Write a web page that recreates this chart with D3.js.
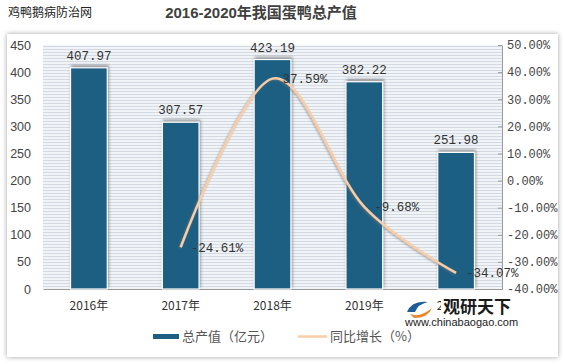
<!DOCTYPE html>
<html><head><meta charset="utf-8">
<script src="https://cdn.jsdelivr.net/npm/d3@7"></script>
<style>body{margin:0;background:#fff}svg{display:block}</style>
</head><body><svg id="c" width="565" height="364"></svg>
<script>
const years = ["2016年","2017年","2018年","2019年","2020年"];
const output = [407.97, 307.57, 423.19, 382.22, 251.98];
const growthYears = ["2017年","2018年","2019年","2020年"];
const growth = [-24.61, 37.59, -9.68, -34.07];
const leftTicks = [0,50,100,150,200,250,300,350,400,450];
const rightTicks = [-40,-30,-20,-10,0,10,20,30,40,50];

const svg = d3.select("#c");
const defs = svg.append("defs");
const pat = defs.append("pattern").attr("id","stripes").attr("patternUnits","userSpaceOnUse").attr("width",6).attr("height",3);
pat.append("rect").attr("width",6).attr("height",3).attr("fill","#f1f4f7");
pat.append("rect").attr("y",1).attr("width",6).attr("height",1).attr("fill","#d3dae3");
const sh = defs.append("filter").attr("id","bshadow").attr("x","-30%").attr("y","-30%").attr("width","160%").attr("height","160%");
sh.append("feDropShadow").attr("dx",1).attr("dy",-2).attr("stdDeviation",1.5).attr("flood-color","#555").attr("flood-opacity",0.6);
const panelSh = defs.append("filter").attr("id","pshadow").attr("x","-5%").attr("y","-5%").attr("width","110%").attr("height","110%");
panelSh.append("feDropShadow").attr("dx",0).attr("dy",0).attr("stdDeviation",2.5).attr("flood-color","#777").attr("flood-opacity",0.7);
const lsh = defs.append("filter").attr("id","lshadow").attr("x","-10%").attr("y","-10%").attr("width","120%").attr("height","120%");
lsh.append("feDropShadow").attr("dx",-1).attr("dy",1).attr("stdDeviation",0.8).attr("flood-color","#777").attr("flood-opacity",0.6);

// panel
svg.append("rect").attr("x",7).attr("y",34).attr("width",551).attr("height",323).attr("fill","#fff").attr("filter","url(#pshadow)");

// titles
svg.append("text").attr("x",8).attr("y",17).attr("font-family","Noto Sans CJK SC").attr("font-size",12).attr("fill","#222").text("鸡鸭鹅病防治网");
svg.append("text").attr("x",261).attr("y",18).attr("text-anchor","middle").attr("font-family","Liberation Sans, Noto Sans CJK SC").attr("font-weight","bold").attr("font-size",15).attr("fill","#404040").text("2016-2020年我国蛋鸭总产值");

const L = 43, R = 502, T = 45, B = 289;
const x = d3.scaleBand().domain(years).range([L,R]).paddingInner(0.6).paddingOuter(0.3);
const y = d3.scaleLinear().domain([0,450]).range([B,T]);
const y2 = d3.scaleLinear().domain([-40,50]).range([B,T]);

svg.append("rect").attr("x",L).attr("y",T).attr("width",R-L).attr("height",B-T).attr("fill","url(#stripes)");

// left axis
const ga = svg.append("g").attr("transform",`translate(${L},0)`).call(d3.axisLeft(y).tickValues(leftTicks).tickSize(0).tickPadding(12));
ga.select(".domain").remove();
ga.selectAll("text").attr("font-family","Liberation Sans").attr("font-size",12.5).attr("fill","#444");

// right axis
const gr = svg.append("g").attr("transform",`translate(${R},0)`).call(d3.axisRight(y2).tickValues(rightTicks).tickSizeInner(-4).tickSizeOuter(0).tickPadding(5).tickFormat(d=>d.toFixed(2)+"%"));
gr.select(".domain").attr("stroke","#999");
gr.selectAll(".tick line").attr("stroke","#999");
gr.selectAll("text").attr("font-family","Liberation Mono").attr("font-size",12).attr("fill","#444");

// bottom axis
const gb = svg.append("g").attr("transform",`translate(0,${B})`).call(d3.axisBottom(x).tickSize(0).tickPadding(12));
gb.select(".domain").attr("stroke","#999").attr("stroke-width",1.2);
gb.selectAll("text").attr("font-family","Noto Sans CJK SC, Liberation Sans").attr("font-size",12).attr("fill","#333");

// bars
svg.append("g").selectAll("rect").data(output).join("rect")
  .attr("x",(d,i)=>x(years[i])).attr("width",x.bandwidth())
  .attr("y",d=>y(d)).attr("height",d=>B-y(d))
  .attr("fill","#1c5f82").attr("stroke","#fff").attr("stroke-width",1.2).attr("filter","url(#bshadow)");
svg.append("g").selectAll("text").data(output).join("text")
  .attr("x",(d,i)=>x(years[i])+x.bandwidth()/2).attr("y",d=>y(d)-8)
  .attr("text-anchor","middle").attr("font-family","Liberation Mono").attr("font-size",12.5).attr("fill","#333")
  .text(d=>d.toFixed(2));

// line
const cx = d => x(d)+x.bandwidth()/2;
const line = d3.line().x((d,i)=>cx(growthYears[i])).y(d=>y2(d)).curve(d3.curveCatmullRom.alpha(0));
svg.append("path").datum(growth).attr("d",line).attr("fill","none").attr("stroke","#f9cda7").attr("stroke-width",2.5).attr("filter","url(#lshadow)");
svg.append("g").selectAll("text").data(growth).join("text")
  .attr("x",(d,i)=>cx(growthYears[i])+10).attr("y",d=>y2(d)+1)
  .attr("dominant-baseline","middle").attr("font-family","Liberation Mono").attr("font-size",12.5).attr("fill","#333")
  .text(d=>d.toFixed(2)+"%");

// legend
const lg = svg.append("g");
lg.append("rect").attr("x",153).attr("y",334).attr("width",26).attr("height",5).attr("fill","#1c5f82");
lg.append("text").attr("x",182).attr("y",341).attr("font-family","Noto Sans CJK SC").attr("font-size",13).attr("fill","#555").text("总产值（亿元）");
lg.append("line").attr("x1",298).attr("x2",327).attr("y1",336.5).attr("y2",336.5).attr("stroke","#f9cda7").attr("stroke-width",2.5);
lg.append("text").attr("x",330).attr("y",341).attr("font-family","Noto Sans CJK SC").attr("font-size",13).attr("fill","#555").text("同比增长（%）");

// watermark logo
const wm = svg.append("g");
wm.append("rect").attr("x",441).attr("y",297).attr("width",76).attr("height",19).attr("fill","#fff");
wm.append("path").attr("d","M407,312 Q412,300 428,302 Q418,304 415,312 Z").attr("fill","#1f5d9a");
wm.append("path").attr("d","M410,314 Q420,318 432,308 Q428,318 414,318 Z").attr("fill","#e8862b");
wm.append("text").attr("x",443).attr("y",313).attr("font-family","Noto Sans CJK SC").attr("font-weight","bold").attr("font-size",17).attr("fill","#1a1a1a").text("观研天下");
wm.append("text").attr("x",405).attr("y",326).attr("font-family","Liberation Sans").attr("font-size",11).attr("fill","#222").text("www.chinabaogao.com");
</script></body></html>
